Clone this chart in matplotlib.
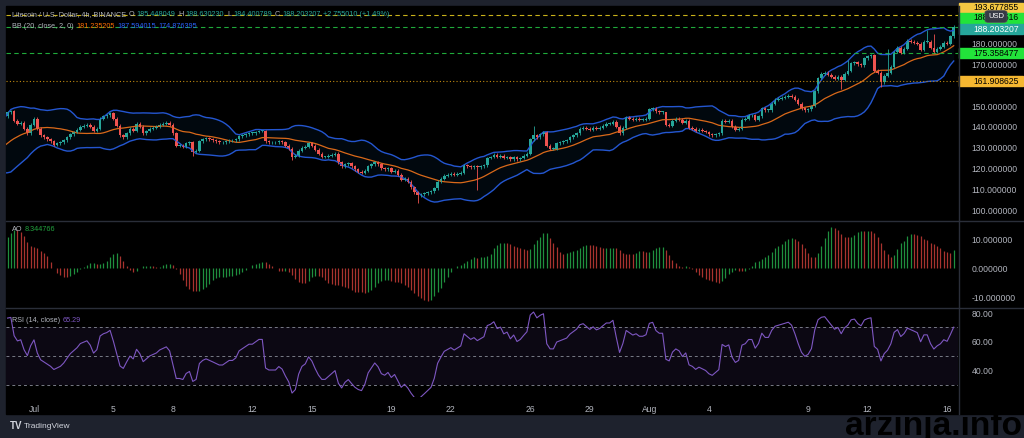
import numpy as np
import pandas as pd
import matplotlib
matplotlib.use("Agg")
import matplotlib.pyplot as plt
from matplotlib.patches import Rectangle, FancyBboxPatch
from matplotlib.lines import Line2D

plt.rcParams['font.family'] = ['Liberation Sans', 'DejaVu Sans']

W, H = 1024, 438

# 4h closes before the visible window (only used so BB / AO / RSI start warmed up)
warmup_close = [128, 127, 129, 131, 132, 130, 128, 129, 131, 130, 128, 126, 125, 124, 122,
                123, 122, 124, 125, 126, 127, 126, 128, 130, 131, 133, 132, 135, 134, 137,
                136, 140, 141, 145]

# visible 4h closes, Jun 29 16:00 -> Aug 16 08:00
close = [147, 147.5,
         143, 141.5, 142, 139, 137, 141,
         143.8, 139, 136, 135, 134, 133,
         131.5, 132, 132.5, 133.5, 135, 136.5,
         137.5, 138.5, 140, 140.5, 141, 140,
         138, 139, 144, 145, 145.5, 146.5,
         144, 140.5, 136, 135, 137, 139,
         138, 141.5, 140, 137, 138, 139,
         139.5, 140, 141, 141.5, 142, 141,
         137, 131, 131, 130.5, 132, 132.5,
         128, 128.5, 133, 134, 134.5, 134,
         133.5, 133, 132.5, 132.5, 133, 133.5,
         133.5, 134, 135.5, 136, 136.5, 137,
         137, 137.5, 138, 138, 133, 132.5,
         132.5, 132.5, 133, 132.5, 131, 129.5,
         125.5, 126, 128.5, 130, 130.5, 132,
         131, 129, 127, 125.5, 125.5, 126,
         126.5, 127, 123, 121, 122, 122.5,
         121, 119.5, 118.5, 118, 119, 121,
         122, 123, 122, 120, 119.5, 120,
         118.5, 119, 117, 114.5, 115, 113.5,
         111, 108.5, 107, 107.5, 108, 108.5,
         109, 110.5, 113.5, 115, 116.5, 117,
         117.5, 117, 117.5, 118, 121.5, 121,
         120.5, 121, 120.5, 121, 121.5, 125,
         125.5, 126.5, 125.5, 126, 125, 125.5,
         124.5, 125.5, 124.5, 125, 126, 127,
         134, 136, 135, 136.5, 137.5, 131,
         129.5, 129.5, 132, 132.5, 133, 133.5,
         135, 136, 137, 139, 139.5, 139,
         138.5, 139.5, 139, 139.5, 140.5, 141.5,
         141.5, 142.5, 140, 137, 139.5, 144.5,
         144, 143.5, 144, 143.5, 143.5, 144,
         148.5, 149, 147.5, 147, 147, 141,
         140.5, 143, 144, 143.5, 142, 143,
         139.5, 139, 138, 138.5, 138, 137.5,
         136.5, 136, 136.5, 137, 143, 142.5,
         143, 140, 138.5, 139, 143.5, 144,
         145.5, 145.5, 143.5, 145, 149, 148,
         148, 151, 153, 153.5, 154, 154.5,
         155, 154.5, 153, 151, 149, 148,
         148.5, 150, 157, 163.5, 165.5, 166,
         165, 164, 163, 164, 162.5, 165.5,
         167, 170.5, 171, 170, 169.5, 173,
         174, 174.5, 167, 166, 161.5, 164.5,
         166, 169, 176, 178, 175.5, 177.5,
         181.5, 181, 180.5, 180, 177, 181,
         181, 178, 176, 177.5, 178.5, 180.5,
         180, 183.5, 188.2]

# longer wicks (visible candle index -> price)
wick_high = {159: 140.5, 199: 146.5, 254: 172.0, 266: 177.5, 278: 186.5, 280: 184.5}
wick_low = {56: 126.0, 86: 124.0, 124: 103.5, 142: 109.5, 252: 158.0, 264: 159.0}

start_day = -4 / 3          # Jun 29 16:00, in days from Jul 1 00:00

tick_days = [0, 4, 7, 11, 14, 18, 21, 25, 28, 31, 34, 39, 42, 46]
tick_labels = ['Jul', '5', '8', '12', '15', '19', '22', '26', '29', 'Aug', '4', '9', '12', '16']

price_ticks = [100, 110, 120, 130, 140, 150, 170, 180]
ao_ticks = [-10, 0, 10]
rsi_ticks = [40, 60, 80]

# ---- series ----
c = np.array(warmup_close + close, dtype=float)
nw = len(warmup_close)
t = start_day + (np.arange(len(c)) - nw) / 6.0
o = np.r_[c[0], c[:-1]]
hi = np.maximum(o, c) + 0.7
lo = np.minimum(o, c) - 0.7
for k, v in wick_high.items():
    hi[nw + k] = v
for k, v in wick_low.items():
    lo[nw + k] = v

s = pd.Series(c)
mid = s.rolling(20).mean()
sd = s.rolling(20).std(ddof=0)
up = mid + 2 * sd
dn = mid - 2 * sd

med = pd.Series((hi + lo) / 2)
ao = (med.rolling(5).mean() - med.rolling(34).mean()).values

delta = s.diff()
ag = delta.clip(lower=0).ewm(alpha=1 / 14, adjust=False).mean()
al = (-delta.clip(upper=0)).ewm(alpha=1 / 14, adjust=False).mean()
rsi = (100 - 100 / (1 + ag / al)).values

# ---- figure ----
BG = '#000000'
FRAME = '#1e222d'
TXT = '#b2b5be'
SEP = '#2a2e39'
GREEN = '#26a69a'
RED = '#ef5350'

fig = plt.figure(figsize=(W / 100, H / 100), dpi=100, facecolor=FRAME)
fig.patches.append(Rectangle((6 / W, 1 - 414 / H), 1 - 6 / W, (414 - 6) / H,
                             transform=fig.transFigure, color=BG, zorder=-10))


def fx(x):
    return x / W


def fy(y):
    return 1 - y / H


def add_ax(top, bottom):
    a = fig.add_axes([fx(6), fy(bottom), fx(958) - fx(6), (bottom - top) / H])
    a.set_facecolor(BG)
    for sp in a.spines.values():
        sp.set_visible(False)
    a.set_xlim(-1.41, 46.55)
    a.yaxis.tick_right()
    a.tick_params(axis='y', length=0, labelsize=6.2, labelcolor=TXT, pad=10)
    a.tick_params(axis='x', length=0)
    a.set_xticks([])
    return a


ax_p = add_ax(6, 220)
ax_ao = add_ax(221, 306)
ax_r = add_ax(308, 397)

# separators
for yy in (220.5, 307.5):
    fig.add_artist(Line2D([fx(6), 1], [fy(yy), fy(yy)], color=SEP, lw=1))
fig.add_artist(Line2D([fx(958.5), fx(958.5)], [fy(6), fy(414)], color=SEP, lw=1))

# ---- price pane ----
ax_p.set_ylim(95.2, 198.1)
ax_p.fill_between(t, dn, up, color='#2196f3', alpha=0.06, lw=0)
ax_p.plot(t, up, color='#2456d0', lw=1)
ax_p.plot(t, dn, color='#2456d0', lw=1)
ax_p.plot(t, mid, color='#d9691a', lw=0.9)

ax_p.axhline(193.68, color='#c9b21a', lw=0.8, ls=(0, (4, 3)))
ax_p.axhline(188.2, color='#1faa3a', lw=0.8, ls=(0, (4, 3)))
ax_p.axhline(175.36, color='#1faa3a', lw=0.8, ls=(0, (4, 3)))
ax_p.axhline(161.91, color='#c08a10', lw=0.8, ls=(0, (1, 2)))

vis = np.arange(nw, len(c))
cols = np.where(c[vis] >= o[vis], GREEN, RED)
ax_p.vlines(t[vis], lo[vis], hi[vis], colors=cols, lw=0.6)
body_lo = np.minimum(o[vis], c[vis])
body_h = np.maximum(np.abs(c[vis] - o[vis]), 0.4)
ax_p.bar(t[vis], body_h, bottom=body_lo, width=0.13, color=cols, lw=0)

ax_p.set_yticks(price_ticks)
ax_p.set_yticklabels(['%.6f' % v for v in price_ticks])

# price labels on the right scale
tr = ax_p.get_yaxis_transform()


def price_tag(p, txt, bg, fg, hpx=10):
    hdat = hpx / 2.08
    ax_p.add_patch(Rectangle((1.001, p - hdat / 2), 0.067, hdat, transform=tr,
                             color=bg, clip_on=False, zorder=5))
    ax_p.text(1.0165, p, txt, transform=tr, color=fg, fontsize=6.2, va='center',
              ha='left', clip_on=False, zorder=6)


price_tag(197.2, '193.677855', '#f5c842', '#000000', 9)
price_tag(192.4, '188.953516', '#22e33a', '#000000')
price_tag(187.0, '188.203207', GREEN, '#ffffff')
price_tag(175.36, '175.358477', '#22e33a', '#000000')
price_tag(161.91, '161.908625', '#f5b731', '#000000')

fig.patches.append(FancyBboxPatch((fx(986), fy(22)), fx(20), 11 / H,
                                  boxstyle='round,pad=0.001,rounding_size=0.004',
                                  transform=fig.transFigure, fc='#363a45', ec='#50535e',
                                  lw=0.5, zorder=7))
fig.text(fx(996), fy(16.5), 'USD', color='#ffffff', fontsize=5.5, ha='center',
         va='center', zorder=8)

# ---- AO pane ----
ax_ao.set_ylim(-13.0, 16.3)
ao_v = ao[vis]
ao_prev = ao[vis - 1]
ao_cols = np.where(ao_v >= ao_prev, '#1f8f3e', '#a8332f')
ax_ao.vlines(t[vis], 0, ao_v, colors=ao_cols, lw=0.9)
ax_ao.set_yticks(ao_ticks)
ax_ao.set_yticklabels(['%.6f' % v for v in ao_ticks])

# ---- RSI pane ----
ax_r.set_ylim(21.3, 83.6)
ax_r.axhspan(30, 70, color='#7e57c2', alpha=0.1, lw=0)
for lvl in (30, 50, 70):
    ax_r.axhline(lvl, color='#787b86', lw=0.7, ls=(0, (3, 3)))
ax_r.plot(t[vis], rsi[vis], color='#7e57c2', lw=0.8)
ax_r.set_yticks(rsi_ticks)
ax_r.set_yticklabels(['%.2f' % v for v in rsi_ticks])
ax_r.set_xticks(tick_days)
ax_r.set_xticklabels(tick_labels)
ax_r.tick_params(axis='x', labelsize=6.2, labelcolor=TXT, pad=6)

# ---- legends ----
fig.canvas.draw()
rend = fig.canvas.get_renderer()


def chain(x, y, parts, size=5.2, gap=2.5):
    for txt, col in parts:
        tx = fig.text(fx(x), fy(y), txt, color=col, fontsize=size, ha='left', va='center',
                      zorder=9)
        x += tx.get_window_extent(renderer=rend).width + gap


chain(12, 15, [('Litecoin / U.S. Dollar, 4h, BINANCE', TXT), ('O', TXT), ('185.448049', GREEN),
               ('H', TXT), ('188.630230', GREEN), ('L', TXT), ('184.400789', GREEN),
               ('C', TXT), ('188.203207', GREEN), ('+2.755010 (+1.49%)', GREEN)])
chain(12, 26, [('BB (20, close, 2, 0)', TXT), ('181.235205', '#ff6d00'),
               ('187.594015', '#2962ff'), ('174.876395', '#2962ff')])
chain(12, 229, [('AO', TXT), ('8.344766', '#22a33f')])
chain(12, 320, [('RSI (14, close)', TXT), ('65.29', '#7e57c2')])

# ---- footer ----
fig.text(fx(10), fy(426), 'TV', color='#d1d4dc', fontsize=7, fontweight='bold',
         ha='left', va='center')
fig.text(fx(24), fy(426), 'TradingView', color='#d1d4dc', fontsize=6, ha='left', va='center')
fig.text(fx(1022), fy(435), 'arzinja.info', color='#000000', fontsize=24, fontweight='bold',
         ha='right', va='baseline', zorder=10)

fig.savefig('out.png', dpi=100, facecolor=FRAME)
